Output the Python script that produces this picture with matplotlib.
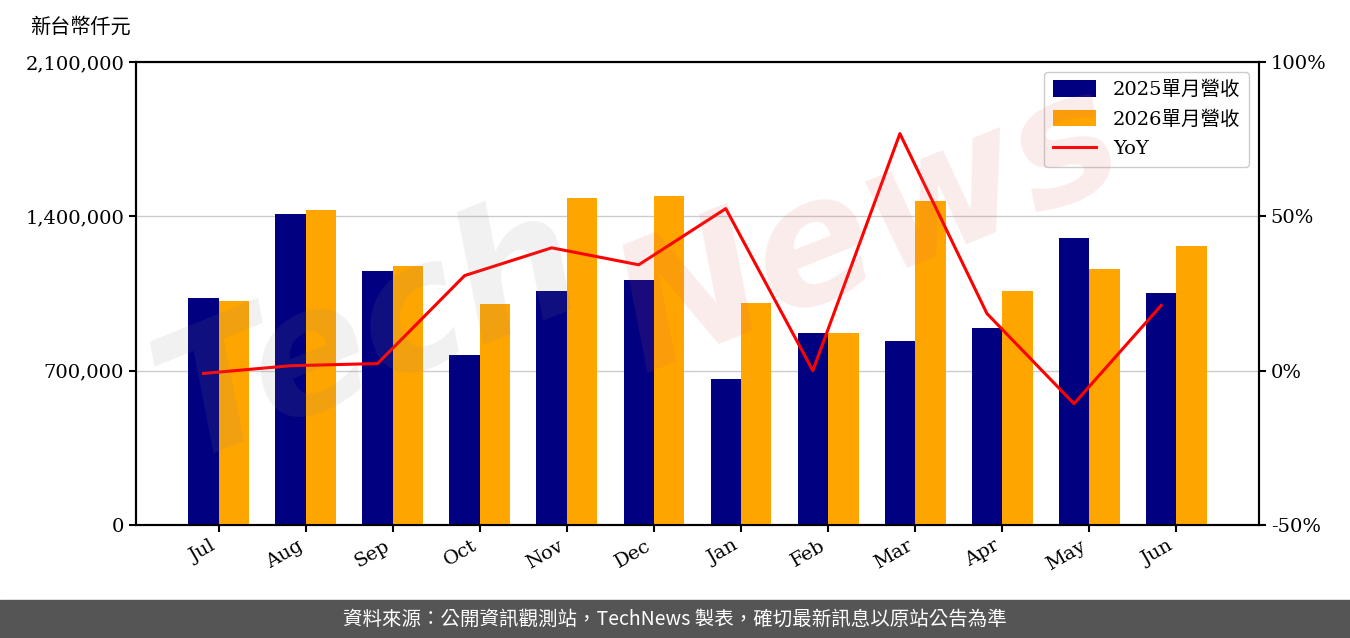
import matplotlib
matplotlib.use("Agg")
import matplotlib.pyplot as plt
import numpy as np

plt.rcParams['font.family'] = ['DejaVu Serif', 'Noto Sans CJK TC']

# data (新台幣仟元)
months = ["Jul", "Aug", "Sep", "Oct", "Nov", "Dec", "Jan", "Feb", "Mar", "Apr", "May", "Jun"]
rev_2025 = [1029600, 1410600, 1152000, 771000, 1061000, 1111000,
            662000, 871000, 834500, 893500, 1301700, 1052000]
rev_2026 = [1016000, 1428700, 1174700, 1002400, 1483100, 1492200,
            1006900, 871000, 1469500, 1061000, 1161100, 1265400]
yoy = [-0.9, 1.6, 2.3, 30.8, 39.8, 34.3, 52.5, 0.0, 76.8, 18.5, -10.7, 21.1]

left_ticks = [0, 700000, 1400000, 2100000]
right_ticks = [-50, 0, 50, 100]

fig = plt.figure(figsize=(13.5, 6.38), dpi=100)
ax = fig.add_axes([136/1350, 1-525/638, 1123/1350, 463/638])

x = np.arange(len(months))
w = 0.35
ax.bar(x - w/2, rev_2025, width=w, color='#000080', label='2025單月營收', zorder=3)
ax.bar(x + w/2, rev_2026, width=w, color='#FFA500', label='2026單月營收', zorder=3)
ax.set_xlim(-0.95, 11.95)
ax.set_ylim(0, 2100000)
ax.set_yticks(left_ticks)
ax.set_yticklabels([f"{v:,}" for v in left_ticks])
ax.yaxis.grid(True, color='#cccccc', linewidth=1, zorder=0)
ax.set_xticks(x)
ax.set_xticklabels(months, rotation=30, ha='right')
ax.tick_params(labelsize=14, length=5, width=1.5)
for s in ax.spines.values():
    s.set_linewidth(1.5)

# YoY line sits on the centre of the 2025 bars
ax2 = ax.twinx()
ax2.plot(x - w/2, yoy, color='red', linewidth=2.2, label='YoY', zorder=4)
ax2.set_ylim(-50, 100)
ax2.set_yticks(right_ticks)
ax2.set_yticklabels([f"{v}%" for v in right_ticks])
ax2.tick_params(labelsize=14, length=5, width=1.5)
for s in ax2.spines.values():
    s.set_linewidth(1.5)

h1, l1 = ax.get_legend_handles_labels()
h2, l2 = ax2.get_legend_handles_labels()
ax2.legend(h1 + h2, l1 + l2, loc='upper right', fontsize=14,
           handlelength=2.2, handleheight=0.9, handletextpad=0.9,
           borderpad=0.45, labelspacing=0.55,
           framealpha=1, edgecolor='#cccccc', fancybox=True)

# watermark
fig.text(0.10, 0.28, "Tech", fontsize=125, color='#888888', alpha=0.12, rotation=22,
         family='DejaVu Sans', style='italic', fontweight='bold')
fig.text(0.44, 0.42, "News", fontsize=125, color='#e06060', alpha=0.12, rotation=22,
         family='DejaVu Sans', style='italic', fontweight='bold')

fig.text(30/1350, 1-27/638, "新台幣仟元", fontsize=14.5, va='center', ha='left')

# footer band
fig.patches.append(plt.Rectangle((0, 0), 1, 38/638, transform=fig.transFigure,
                                 color='#555555', zorder=0))
fig.text(0.5, 19/638, "資料來源：公開資訊觀測站，TechNews 製表，確切最新訊息以原站公告為準",
         fontsize=14, color='white', ha='center', va='center',
         family=['Noto Sans CJK TC', 'DejaVu Sans'])

fig.savefig("out.png", dpi=100)
